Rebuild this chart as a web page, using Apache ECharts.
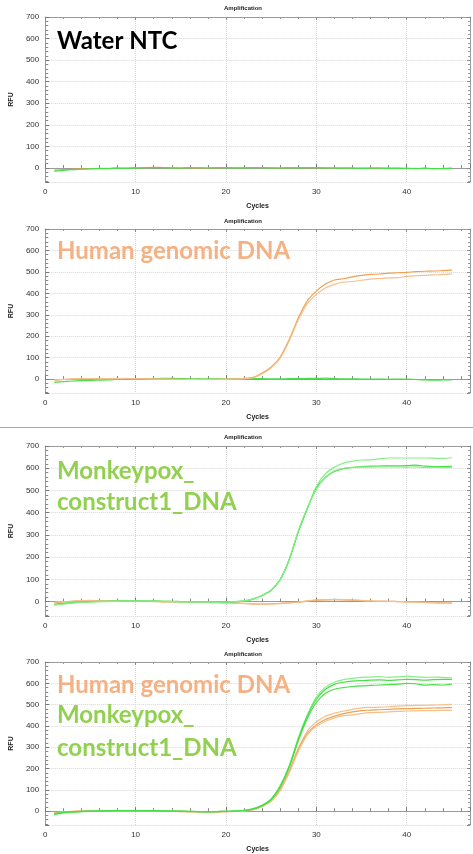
<!DOCTYPE html>
<html>
<head>
<meta charset="utf-8">
<script src="https://cdn.jsdelivr.net/npm/echarts@6/dist/echarts.min.js"></script>
<style>
  html, body { margin: 0; padding: 0; background: #fff; }
  #chart { width: 473px; height: 854px; }
</style>
</head>
<body>
<div id="chart"></div>
<script>
const cycles = [1, 2, 3, 4, 5, 6, 7, 8, 9, 10, 11, 12, 13, 14, 15, 16, 17, 18, 19, 20, 21, 22, 23,
  24, 25, 26, 27, 28, 29, 30, 31, 32, 33, 34, 35, 36, 37, 38, 39, 40, 41, 42, 43, 44, 45];
const yTicks = [0, 100, 200, 300, 400, 500, 600, 700];
const xTicks = [0, 10, 20, 30, 40];

// Panel 1: Water NTC
const ntcGreen = [-15, -11, -8, -6, -4, -3, -3, -1, -2, 0, 1, 2, 1, 0, 0, 1, 1, 0, 1, 1, 0, 0, 1,
  1, 0, 0, 1, 0, 1, 1, 0, 0, -1, -1, -2, -1, -1, -2, -2, -2, -3, -2, -3, -3, -2];
const ntcOrange = [-10, -8, -6, -4, -3, -2, -2, 0, 0, 1, 1, 3, 2, 1, 0, 1, 0, 0, 1, 2, 1, 1, 2,
  1, 1, 0, 1, 1, 2, 1, 1, 0, 0, -1, -1, 0, -1, -1, -1, -2, -2, -1, -3, -2, -1];

// Panel 2: Human genomic DNA
const hgdOrange1 = [-5, -2, 0, 1, 1, 1, 1, 2, 2, 2, 1, 0, -1, -1, -1, -2, -2, -2, -1, -1, 1, 3, 8,
  28, 56, 103, 185, 285, 365, 410, 443, 462, 468, 477, 484, 488, 490, 494, 496, 498, 501, 503, 504, 506, 508];
const hgdOrange2 = [-4, -1, 1, 2, 2, 1, 1, 2, 3, 2, 1, 0, 0, -1, -2, -2, -1, -2, -2, -1, 0, 2, 6,
  25, 52, 98, 178, 275, 352, 395, 425, 442, 452, 455, 461, 466, 469, 472, 473, 479, 482, 484, 486, 488, 491];
const hgdGreen = [-15, -12, -9, -7, -6, -5, -4, -2, -1, 0, 1, 2, 3, 3, 2, 1, 2, 1, 1, 0, 1, 1, 2,
  2, 1, 1, 2, 2, 3, 3, 4, 2, 1, 1, 0, 0, 0, -1, 0, 0, -2, -4, -5, -4, -4];

// Panel 3: Monkeypox_construct1_DNA
const mpxGreen1 = [-15, -10, -6, -3, -1, 0, 1, 1, 2, 3, 3, 2, 1, 0, 0, -1, -1, -2, -3, -3, -1, 3, 12,
  28, 52, 100, 190, 315, 420, 518, 575, 605, 623, 632, 637, 638, 642, 646, 646, 646, 646, 646, 645, 644, 647];
const mpxGreen2 = [-12, -8, -5, -2, 0, 1, 1, 2, 2, 3, 2, 2, 1, 1, 0, -1, -2, -2, -2, -3, -1, 2, 11,
  27, 50, 98, 188, 313, 418, 510, 558, 585, 598, 604, 607, 609, 610, 611, 611, 612, 614, 609, 607, 607, 609];
const mpxGreen3 = [-16, -11, -7, -4, -1, 0, 0, 1, 2, 2, 3, 1, 1, 0, -1, -1, -1, -3, -3, -2, 0, 3, 12,
  28, 52, 100, 192, 318, 422, 505, 560, 588, 600, 603, 605, 605, 606, 607, 606, 605, 606, 604, 604, 603, 604];
const mpxOrange1 = [-5, -2, 1, 3, 4, 4, 3, 2, 2, 2, 1, 0, -1, -1, -1, -2, -3, -4, -5, -6, -7, -8, -10,
  -11, -10, -8, -6, -3, 2, 6, 8, 9, 8, 6, 4, 2, 1, 1, 0, -1, -2, -4, -5, -6, -7];
const mpxOrange2 = [-3, 0, 2, 4, 5, 4, 4, 3, 3, 2, 1, 1, 0, -1, -2, -2, -3, -3, -4, -5, -7, -9, -10,
  -12, -11, -9, -6, -2, 3, 7, 9, 10, 9, 7, 5, 3, 2, 1, 0, -1, -3, -4, -5, -6, -6];

// Panel 4: both templates
const bothGreen1 = [-18, -8, -4, -2, 0, 1, 1, 2, 2, 3, 3, 2, 1, 0, -1, -1, -2, -3, -2, -1, 0, 4, 12,
  28, 58, 120, 215, 345, 452, 535, 582, 605, 617, 623, 628, 629, 631, 628, 630, 634, 630, 628, 629, 628, 626];
const bothGreen2 = [-12, -6, -3, -1, 0, 1, 2, 2, 3, 3, 2, 2, 1, 0, 0, -1, -2, -2, -2, -1, 0, 3, 11,
  27, 56, 117, 210, 338, 445, 525, 572, 595, 605, 610, 613, 615, 616, 614, 616, 618, 617, 615, 617, 618, 618];
const bothGreen3 = [-15, -7, -4, -2, -1, 0, 1, 2, 2, 2, 2, 1, 1, 0, -1, -2, -2, -3, -2, -1, 0, 3, 10,
  26, 54, 114, 205, 330, 435, 510, 553, 572, 580, 585, 588, 590, 592, 594, 596, 600, 598, 591, 594, 592, 596];
const bothOrange1 = [-8, -4, -2, -1, 0, 1, 1, 1, 2, 2, 1, 1, 0, -1, -2, -2, -3, -3, -2, -2, -1, 2, 8,
  24, 50, 104, 190, 295, 375, 418, 445, 460, 470, 478, 485, 487, 488, 490, 493, 495, 496, 497, 498, 499, 501];
const bothOrange2 = [-6, -3, -1, 0, 1, 1, 1, 2, 2, 2, 1, 0, 0, -1, -1, -2, -2, -3, -3, -2, -1, 1, 7,
  22, 48, 100, 185, 288, 365, 405, 430, 446, 458, 466, 472, 474, 476, 478, 480, 481, 482, 483, 484, 485, 486];
const bothOrange3 = [-7, -4, -2, -1, 0, 0, 1, 1, 1, 2, 1, 0, -1, -1, -2, -2, -3, -4, -3, -2, -1, 1, 7,
  21, 46, 96, 180, 280, 358, 398, 422, 438, 448, 452, 458, 462, 464, 466, 468, 470, 471, 472, 472, 473, 473];

const GREEN = '#45e045';
const GREEN_LIGHT = '#86ee86';
const ORANGE = '#f0a050';
const ORANGE_LIGHT = '#f5c08c';
const LABEL_ORANGE = '#f4b183';
const LABEL_GREEN = '#92d050';

// pixel boxes of the four screenshots (top of the 700 line, bottom axis line)
const panels = [
  { top: 17, bottom: 182, left: 42, title: 8, curves: [[ntcOrange, ORANGE], [ntcGreen, GREEN]] },
  { top: 229, bottom: 393, left: 42, title: 221, curves: [[hgdGreen, GREEN], [hgdOrange1, ORANGE], [hgdOrange2, ORANGE_LIGHT]] },
  { top: 446, bottom: 616, left: 43, title: 437, curves: [[mpxOrange1, ORANGE], [mpxOrange2, ORANGE_LIGHT], [mpxGreen1, GREEN_LIGHT], [mpxGreen2, GREEN], [mpxGreen3, GREEN_LIGHT]] },
  { top: 662, bottom: 829, left: 43, title: 654, curves: [[bothOrange1, ORANGE_LIGHT], [bothOrange2, ORANGE], [bothOrange3, ORANGE_LIGHT], [bothGreen1, GREEN_LIGHT], [bothGreen2, GREEN], [bothGreen3, GREEN]] }
];

const chart = echarts.init(document.getElementById('chart'));
const axisFont = 'Liberation Sans';
const frameColor = '#9a9a9a';

const grids = [];
const xAxes = [];
const yAxes = [];
const series = [];
const graphics = [];

function pointsOf(values) {
  return cycles.map((c, i) => [c, values[i]]);
}

panels.forEach((p, idx) => {
  grids.push({
    left: p.left,
    right: 2,
    top: p.top,
    height: p.bottom - p.top
  });

  // bottom x axis with labels
  xAxes.push({
    type: 'value',
    gridIndex: idx,
    min: 0,
    max: 47,
    interval: 10,
    name: 'Cycles',
    nameLocation: 'middle',
    nameGap: 21,
    nameTextStyle: { fontFamily: axisFont, fontSize: 7, fontWeight: 'bold', color: '#222' },
    axisLine: { lineStyle: { color: frameColor, width: 1 } },
    axisTick: { inside: true, length: 4, lineStyle: { color: '#777' } },
    minorTick: { show: true, splitNumber: 5, length: 3, lineStyle: { color: '#888' } },
    axisLabel: {
      fontFamily: axisFont, fontSize: 8, color: '#333', margin: 6,
      formatter: v => (xTicks.includes(v) ? String(v) : '')
    },
    splitLine: { show: true, lineStyle: { color: '#d6d6d6', type: 'dotted' } }
  });
  // top frame with ticks
  xAxes.push({
    type: 'value',
    gridIndex: idx,
    position: 'top',
    min: 0,
    max: 47,
    interval: 10,
    axisLine: { onZero: false, lineStyle: { color: frameColor, width: 1 } },
    axisTick: { inside: true, length: 3, lineStyle: { color: '#888' } },
    minorTick: { show: true, splitNumber: 5, length: 2, lineStyle: { color: '#999' } },
    axisLabel: { show: false },
    splitLine: { show: false }
  });

  // the frame bottom sits a little below zero, so let the ticks fall on nice hundreds
  yAxes.push({
    type: 'value',
    gridIndex: idx,
    min: -65,
    max: 700,
    minInterval: 100,
    maxInterval: 100,
    name: 'RFU',
    nameLocation: 'middle',
    nameGap: 29,
    nameRotate: 90,
    nameTextStyle: { fontFamily: axisFont, fontSize: 7, fontWeight: 'bold', color: '#222' },
    axisLine: { show: true, onZero: false, lineStyle: { color: frameColor, width: 1 } },
    axisTick: { show: true, inside: true, length: 4, lineStyle: { color: '#777' } },
    minorTick: { show: true, splitNumber: 5, length: 3, lineStyle: { color: '#888' } },
    axisLabel: {
      fontFamily: axisFont, fontSize: 8, color: '#333', margin: 6, showMinLabel: false,
      formatter: v => (yTicks.includes(v) ? String(v) : '')
    },
    splitLine: { show: true, lineStyle: { color: '#d6d6d6', type: 'dotted' } }
  });
  yAxes.push({
    type: 'value',
    gridIndex: idx,
    position: 'right',
    min: -65,
    max: 700,
    minInterval: 100,
    maxInterval: 100,
    axisLine: { show: true, onZero: false, lineStyle: { color: frameColor, width: 1 } },
    axisTick: { show: true, inside: true, length: 3, lineStyle: { color: '#888' } },
    minorTick: { show: true, splitNumber: 5, length: 2, lineStyle: { color: '#999' } },
    axisLabel: { show: false },
    splitLine: { show: false }
  });

  p.curves.forEach(([values, color]) => {
    series.push({
      type: 'line',
      xAxisIndex: idx * 2,
      yAxisIndex: idx * 2,
      data: pointsOf(values),
      showSymbol: false,
      smooth: 0.3,
      lineStyle: { color: color, width: 1.2 },
      silent: true
    });
  });

  graphics.push({
    type: 'text',
    x: 243,
    y: p.title,
    style: {
      text: 'Amplification',
      font: 'bold 6px "Liberation Sans"',
      fill: '#222',
      textAlign: 'center',
      textVerticalAlign: 'middle'
    }
  });
});

// big overlay captions
const bigFont = 'bold 24px Lato';
const captions = [
  ['Water NTC', 41, '#000000'],
  ['Human genomic DNA', 251, LABEL_ORANGE],
  ['Monkeypox_', 471, LABEL_GREEN],
  ['construct1_DNA', 502, LABEL_GREEN],
  ['Human genomic DNA', 685, LABEL_ORANGE],
  ['Monkeypox_', 715, LABEL_GREEN],
  ['construct1_DNA', 748, LABEL_GREEN]
];
captions.forEach(([text, y, color]) => {
  graphics.push({
    type: 'text',
    x: 57,
    y: y,
    z: 100,
    style: { text: text, font: bigFont, fill: color, textAlign: 'left', textVerticalAlign: 'middle' }
  });
});

// separator between the second and third screenshot
graphics.push({
  type: 'line',
  shape: { x1: 0, y1: 427.5, x2: 473, y2: 427.5 },
  style: { stroke: '#a8a8a8', lineWidth: 1 }
});

chart.setOption({
  animation: false,
  backgroundColor: '#ffffff',
  grid: grids,
  xAxis: xAxes,
  yAxis: yAxes,
  series: series,
  graphic: graphics
});
</script>
</body>
</html>
